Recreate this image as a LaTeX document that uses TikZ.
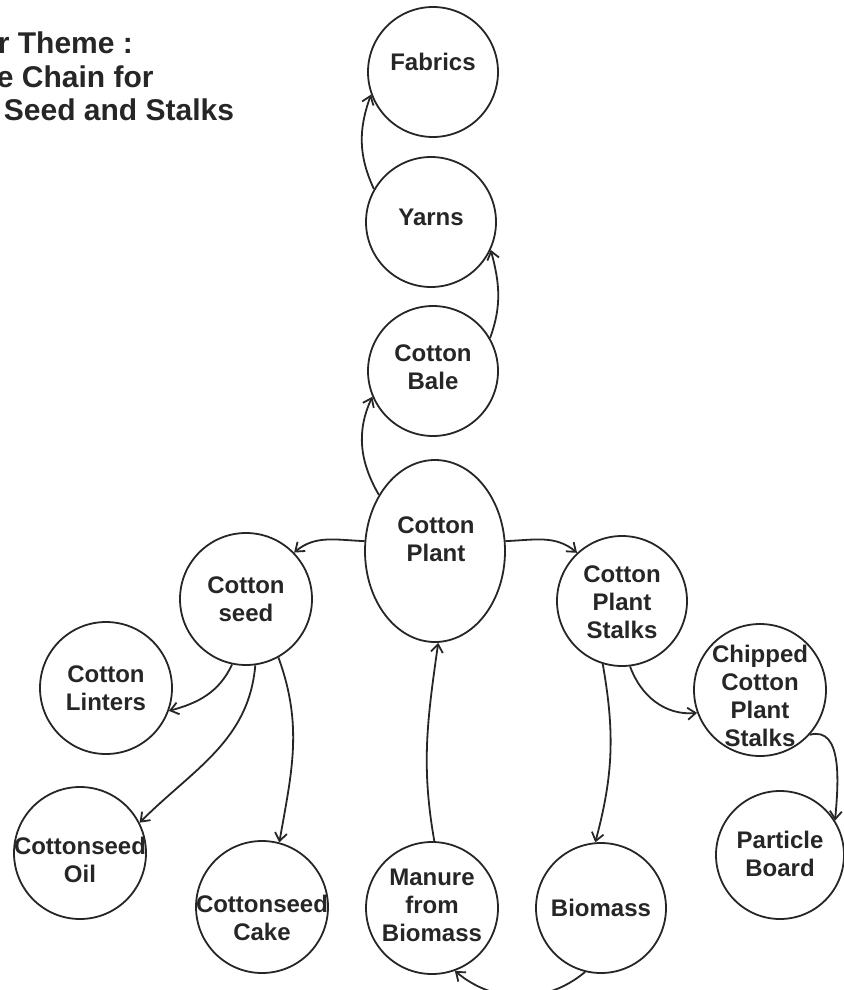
\documentclass[tikz,border=0pt]{standalone}
\usepackage{fontspec}
\setmainfont{Liberation Sans}
\usetikzlibrary{arrows.meta,shapes.geometric}
\begin{document}
\begin{tikzpicture}[x=1pt,y=1pt,
  line width=1.8pt, draw=black!85,
  bubble/.style={circle,draw,minimum size=130pt,inner sep=0pt},
  oval/.style={ellipse,draw,minimum width=140pt,minimum height=182pt,inner sep=0pt},
  lbl/.style={align=center,font=\fontsize{24}{28}\selectfont\bfseries,text=black!85,inner sep=0pt},
  ttl/.style={anchor=base west,font=\fontsize{30}{34}\selectfont\bfseries,text=black!85,inner sep=0pt},
  conn/.style={draw=black!85,line width=1.8pt,-{Straight Barb[length=8pt,width=12pt]}}]
\useasboundingbox (0,0) rectangle (843,-990);
% title
\node[ttl] (t1) at (-3,-53) {r Theme :};
\node[ttl] (t2) at (-4,-87) {e Chain for};
\node[ttl] (t3) at (3,-120) {Seed and Stalks};
% shapes
\node[bubble] (fab) at (433,-72) {};
\node[bubble] (yarn) at (431,-222) {};
\node[bubble] (bale) at (433,-371) {};
\node[oval] (plant) at (435,-551) {};
\node[bubble,minimum size=132pt] (seed) at (246,-599) {};
\node[bubble] (stalk) at (622,-601) {};
\node[bubble,minimum size=132pt] (lint) at (106,-688) {};
\node[bubble,minimum size=132pt] (chip) at (760,-690) {};
\node[bubble,minimum size=128pt] (part) at (780,-855) {};
\node[bubble,minimum size=132pt] (oil) at (80,-853) {};
\node[bubble,minimum size=132pt] (cake) at (262,-907) {};
\node[bubble,minimum size=132pt] (man) at (432,-908) {};
\node[bubble] (bio) at (601,-908) {};
% labels
\node[lbl] (fabt) at (433,-62) {Fabrics};
\node[lbl] (yarnt) at (431,-217) {Yarns};
\node[lbl] (balet) at (433,-367) {Cotton\\Bale};
\node[lbl] (plantt) at (436,-539) {Cotton\\Plant};
\node[lbl] (seedt) at (246,-599) {Cotton\\seed};
\node[lbl] (stalkt) at (622,-602) {Cotton\\Plant\\Stalks};
\node[lbl] (lintt) at (106,-688) {Cotton\\Linters};
\node[lbl] (chipt) at (760,-696) {Chipped\\Cotton\\Plant\\Stalks};
\node[lbl] (partt) at (780,-854) {Particle\\Board};
\node[lbl] (oilt) at (80,-860) {Cottonseed\\Oil};
\node[lbl] (caket) at (262,-918) {Cottonseed\\Cake};
\node[lbl] (mant) at (432,-905) {Manure\\from\\Biomass};
\node[lbl] (biot) at (601,-908) {Biomass};
% connectors
\draw[conn] (plant.135) to[out=120,in=245] (bale.203);
\draw[conn] (bale.30) to[out=70,in=285] (yarn.335);
\draw[conn] (yarn.150) to[out=115,in=250] (fab.200);
\draw[conn] (plant.172) to[out=178,in=40] (seed.44);
\draw[conn] (plant.8) to[out=2,in=140] (stalk.133);
\draw[conn] (seed.258) to[out=245,in=15] (lint.340);
\draw[conn] (seed.278) to[out=265,in=45] (oil.27);
\draw[conn] (seed.299) to[out=290,in=80] (cake.75);
\draw[conn] (man.88) to[out=100,in=262] (plant.272);
\draw[conn] (stalk.253) to[out=280,in=75] (bio.95);
\draw[conn] (stalk.277) to[out=290,in=185] (chip.200);
\draw[conn] (chip.318) to[out=15,in=85] (part.32);
\draw[conn] (bio.256) to[out=220,in=320] (man.290);
\end{tikzpicture}
\end{document}
